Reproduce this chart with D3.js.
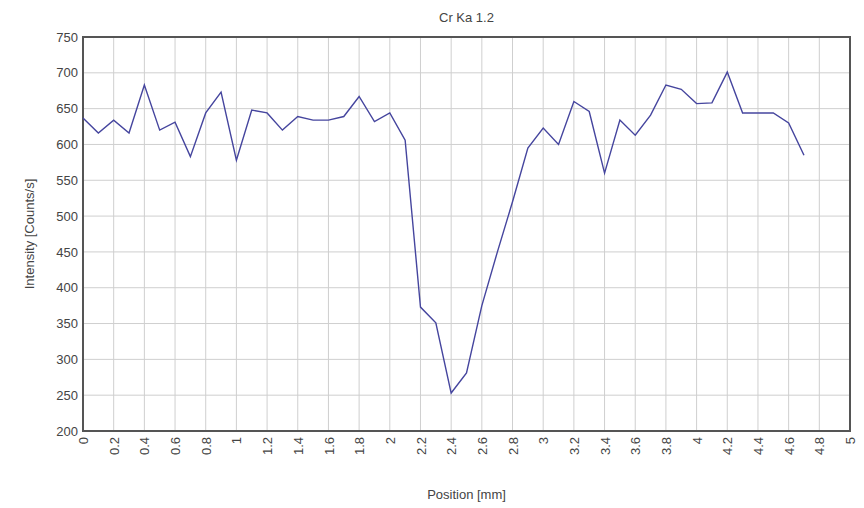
<!DOCTYPE html>
<html>
<head>
    <meta charset="UTF-8">
    <title>Cr Ka 1.2</title>
    <script src="https://d3js.org/d3.v7.min.js"></script>
    <style>
        body { margin: 0; background: #fff; }
        text { font-family: "Liberation Sans", Arial, sans-serif; fill: #444; }
        .grid line { stroke: #cfcfcf; stroke-width: 1px; }
        .axis path, .axis line { display: none; }
    </style>
</head>
<body>
<svg id="chart"></svg>
<script>
    // position [mm], one reading every 0.1 mm
    var positions = [0, 0.1, 0.2, 0.3, 0.4, 0.5, 0.6, 0.7, 0.8, 0.9,
        1.0, 1.1, 1.2, 1.3, 1.4, 1.5, 1.6, 1.7, 1.8, 1.9,
        2.0, 2.1, 2.2, 2.3, 2.4, 2.5, 2.6, 2.7, 2.8, 2.9,
        3.0, 3.1, 3.2, 3.3, 3.4, 3.5, 3.6, 3.7, 3.8, 3.9,
        4.0, 4.1, 4.2, 4.3, 4.4, 4.5, 4.6, 4.7];

    // intensity [counts/s]
    var intensity = [637, 616, 634, 616, 683, 620, 631, 583, 644, 673,
        578, 648, 644, 620, 639, 634, 634, 639, 667, 632,
        644, 606, 373, 351, 253, 281, 375, 449, 520, 595,
        623, 600, 660, 646, 560, 634, 613, 641, 683, 677,
        657, 658, 701, 644, 644, 644, 630, 585];

    var xTicks = [0, 0.2, 0.4, 0.6, 0.8, 1, 1.2, 1.4, 1.6, 1.8, 2, 2.2, 2.4,
        2.6, 2.8, 3, 3.2, 3.4, 3.6, 3.8, 4, 4.2, 4.4, 4.6, 4.8, 5];
    var yTicks = [200, 250, 300, 350, 400, 450, 500, 550, 600, 650, 700, 750];

    var title = "Cr Ka 1.2",
        xTitle = "Position [mm]",
        yTitle = "Intensity [Counts/s]";

    var W = 864, H = 508,
        pLeft = 83, pRight = 850, pTop = 37, pBottom = 431;

    var svg = d3.select("#chart").attr("width", W).attr("height", H);

    var x = d3.scaleLinear().domain([0, 5]).range([pLeft, pRight]);
    var y = d3.scaleLinear().domain([200, 750]).range([pBottom, pTop]);

    // grid
    var grid = svg.append("g").attr("class", "grid");
    grid.selectAll("line.v").data(xTicks).enter().append("line")
        .attr("class", "v")
        .attr("x1", function (d) { return x(d); })
        .attr("x2", function (d) { return x(d); })
        .attr("y1", pTop).attr("y2", pBottom);
    grid.selectAll("line.h").data(yTicks).enter().append("line")
        .attr("class", "h")
        .attr("x1", pLeft).attr("x2", pRight)
        .attr("y1", function (d) { return y(d); })
        .attr("y2", function (d) { return y(d); });

    // axes (labels only)
    var fmt = d3.format("~g");
    var xAxis = svg.append("g").attr("class", "axis")
        .attr("transform", "translate(0," + pBottom + ")")
        .call(d3.axisBottom(x).tickValues(xTicks).tickFormat(fmt).tickSize(0));
    xAxis.selectAll("text")
        .attr("transform", "rotate(-90)")
        .attr("x", -6).attr("y", 0).attr("dy", "0.35em")
        .style("text-anchor", "end")
        .style("font-size", "13px")
        .style("font-family", "'Liberation Sans', Arial, sans-serif")
        .style("fill", "#444");

    var yAxis = svg.append("g").attr("class", "axis")
        .attr("transform", "translate(" + pLeft + ",0)")
        .call(d3.axisLeft(y).tickValues(yTicks).tickFormat(fmt).tickSize(0).tickPadding(5));
    yAxis.selectAll("text")
        .style("font-size", "13px")
        .style("font-family", "'Liberation Sans', Arial, sans-serif")
        .style("fill", "#444");

    // frame
    svg.append("rect")
        .attr("x", pLeft).attr("y", pTop)
        .attr("width", pRight - pLeft).attr("height", pBottom - pTop)
        .attr("fill", "none").attr("stroke", "#555").attr("stroke-width", 2);

    // data line
    var line = d3.line()
        .x(function (d, i) { return x(positions[i]); })
        .y(function (d) { return y(d); });

    svg.append("path")
        .datum(intensity)
        .attr("d", line)
        .attr("fill", "none")
        .attr("stroke", "#45459e")
        .attr("stroke-width", 1.4);

    // titles
    svg.append("text")
        .attr("x", (pLeft + pRight) / 2).attr("y", 22)
        .attr("text-anchor", "middle")
        .style("font-size", "13px")
        .text(title);

    svg.append("text")
        .attr("x", (pLeft + pRight) / 2).attr("y", 499)
        .attr("text-anchor", "middle")
        .style("font-size", "13px")
        .text(xTitle);

    svg.append("text")
        .attr("transform", "translate(34," + ((pTop + pBottom) / 2) + ") rotate(-90)")
        .attr("text-anchor", "middle")
        .style("font-size", "13px")
        .text(yTitle);
</script>
</body>
</html>
